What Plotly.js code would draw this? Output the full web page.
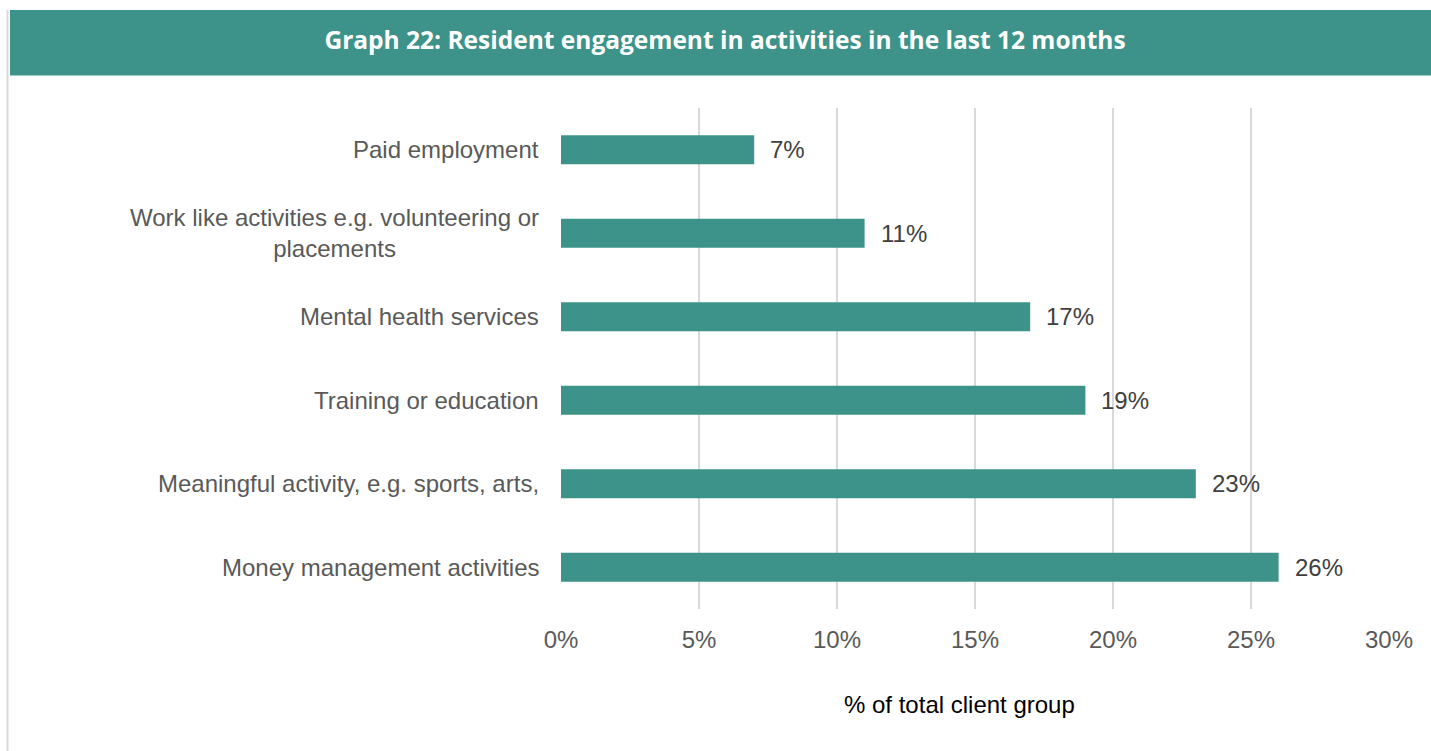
<!DOCTYPE html>
<html>
<head>
<meta charset="utf-8">
<script src="https://cdn.plot.ly/plotly-3.0.1.min.js"></script>
<style>
html,body{margin:0;padding:0;background:#fff;}
#chart{width:1431px;height:751px;}
</style>
</head>
<body>
<div id="chart"></div>
<script>
const categories = [
  "Paid employment",
  "Work like activities e.g. volunteering or<br>placements",
  "Mental health services",
  "Training or education",
  "Meaningful activity, e.g. sports, arts,",
  "Money management activities"
];
const values = [7, 11, 17, 19, 23, 26];
const tickVals = [0, 5, 10, 15, 20, 25, 30];
const tickLabels = ["0%", "5%", "10%", "15%", "20%", "25%", "30%"];
const chartTitle = "Graph 22: Resident engagement in activities in the last 12 months";
const xAxisTitle = "% of total client group";

const teal = "#3d9389";
const W = 1431, H = 751;
const L = 561, R = 42, T = 108, B = 142;
const pw = W - L - R, ph = H - T - B;
const px = v => (v - L) / pw;
const py = v => (H - B - v) / ph;
const fam = "Liberation Sans, Arial, sans-serif";

const trace = {
  type: "bar",
  orientation: "h",
  x: values,
  y: categories,
  marker: {color: teal},
  hoverinfo: "skip"
};

const annotations = [];
categories.forEach((c, i) => {
  annotations.push({
    xref: "paper", yref: "y", x: 0, y: c,
    text: c, showarrow: false, xanchor: "right", yanchor: "middle",
    align: "center", xshift: -20,
    font: {family: fam, size: 24, color: "#595959"}
  });
  annotations.push({
    xref: "x", yref: "y", x: values[i], y: c,
    text: values[i] + "%", showarrow: false, xanchor: "left", yanchor: "middle",
    xshift: 14,
    font: {family: fam, size: 24, color: "#404040"}
  });
});
annotations.push({
  xref: "paper", yref: "paper", x: px(959), y: py(704),
  text: xAxisTitle, showarrow: false, xanchor: "center", yanchor: "middle",
  font: {family: fam, size: 24, color: "#000000"}
});

const layout = {
  width: W, height: H,
  margin: {l: L, r: R, t: T, b: B, pad: 0},
  paper_bgcolor: "#ffffff",
  plot_bgcolor: "#ffffff",
  showlegend: false,
  bargap: 0.653,
  title: {
    text: "<b>" + chartTitle + "</b>",
    x: 725 / W, xref: "container", xanchor: "center",
    y: 1 - 40 / H, yref: "container", yanchor: "middle",
    font: {family: "Open Sans, sans-serif", size: 24.5, color: "#ffffff"}
  },
  xaxis: {
    range: [0, 30],
    tickvals: tickVals,
    ticktext: tickLabels,
    showgrid: true,
    gridcolor: "#d9d9d9",
    gridwidth: 1.5,
    zeroline: false,
    showline: false,
    ticks: "",
    ticklabelstandoff: 14,
    tickfont: {family: fam, size: 24, color: "#595959"},
    fixedrange: true
  },
  yaxis: {
    autorange: "reversed",
    showticklabels: false,
    showgrid: false,
    zeroline: false,
    showline: false,
    ticks: "",
    fixedrange: true
  },
  shapes: [
    {type: "rect", xref: "paper", yref: "paper", x0: px(10), x1: px(1431), y0: py(75.5), y1: py(10),
     fillcolor: teal, line: {width: 0}, layer: "below"},
    {type: "line", xref: "paper", yref: "paper", x0: px(7.5), x1: px(7.5), y0: py(751), y1: py(10),
     line: {color: "#d9d9d9", width: 2}}
  ],
  annotations: annotations
};

Plotly.newPlot("chart", [trace], layout, {displayModeBar: false, staticPlot: true});
</script>
</body>
</html>
